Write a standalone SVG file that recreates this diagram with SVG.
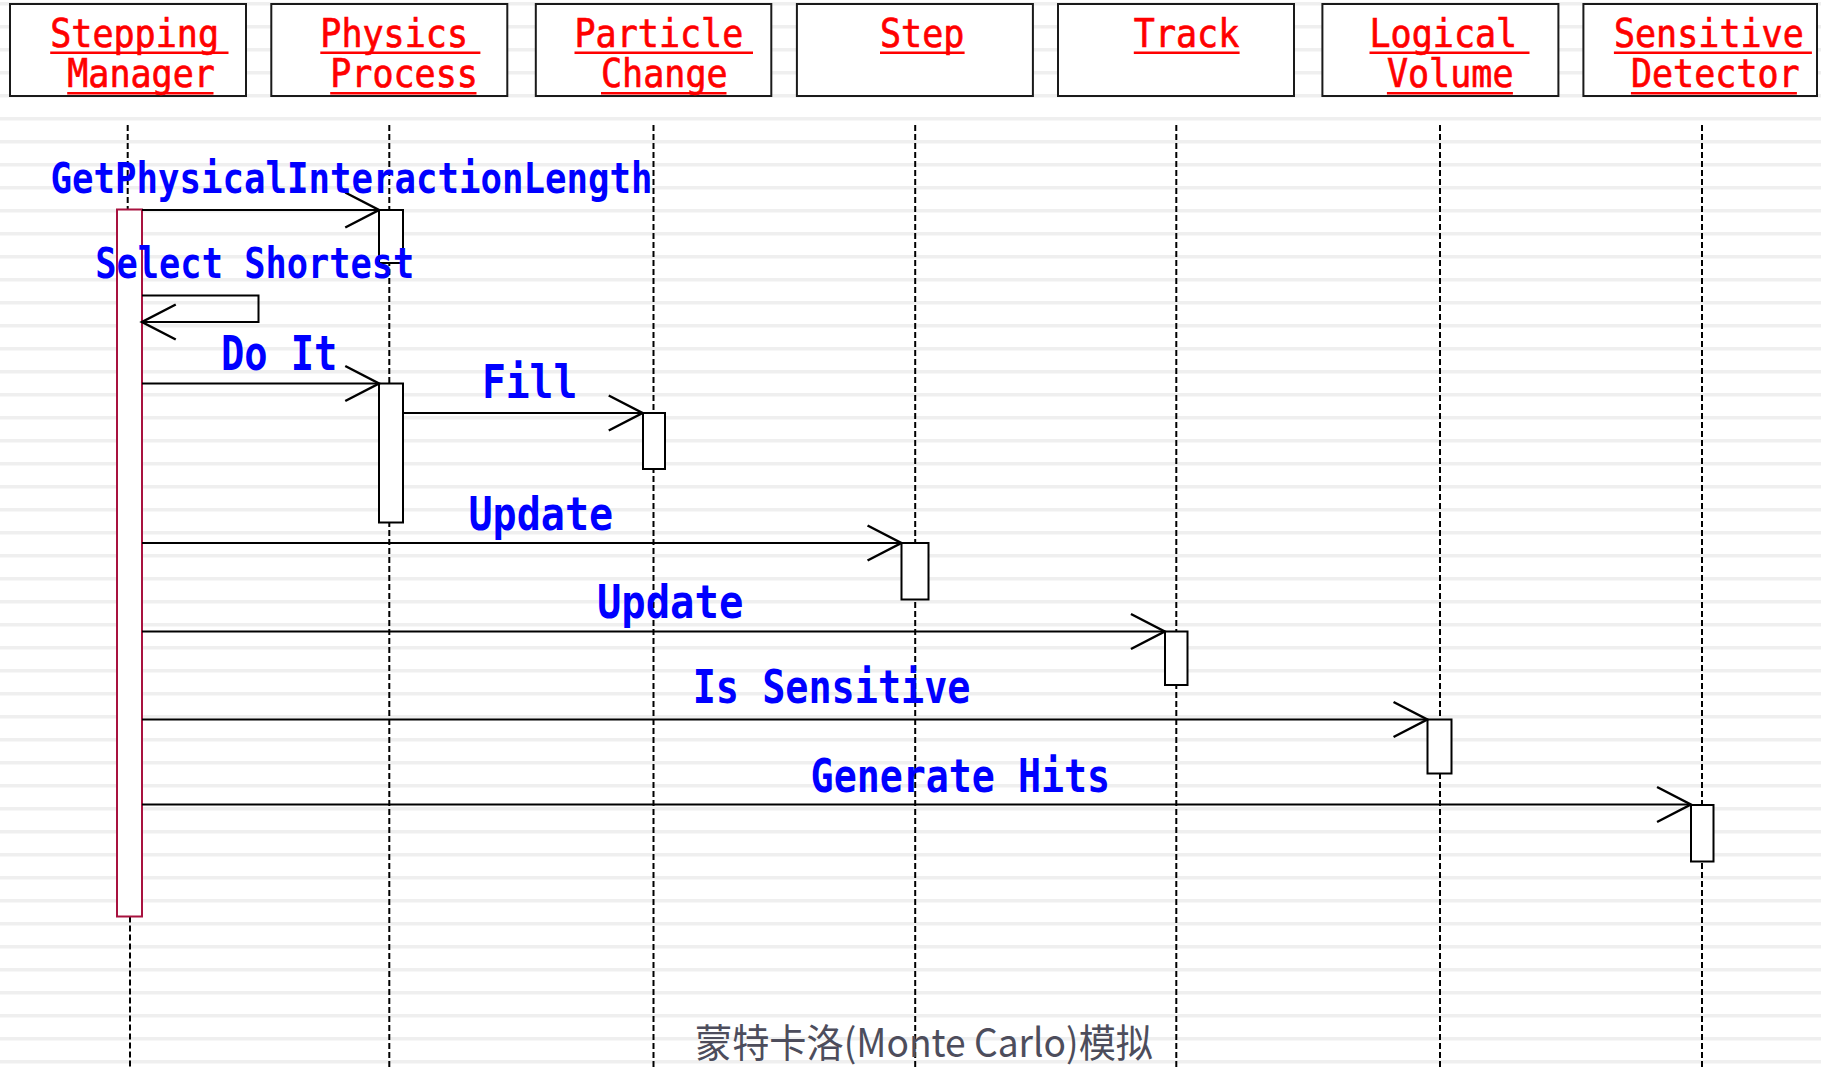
<svg xmlns="http://www.w3.org/2000/svg" width="1821" height="1069" viewBox="0 0 1821 1069">
  <defs>
    <pattern id="stripes" patternUnits="userSpaceOnUse" x="0" y="2" width="1821" height="23">
      <rect x="0" y="0" width="1821" height="3.5" fill="#efefef"/>
    </pattern>
    <marker id="open" markerUnits="userSpaceOnUse" markerWidth="40" markerHeight="40" viewBox="-30 -16 32 32" refX="0" refY="0" orient="auto" overflow="visible">
      <path d="M-27,-14 L0,0 L-27,14" fill="none" stroke="#000" stroke-width="2"/>
    </marker>
    <style>
      .hdr { fill: #fff; stroke: #1a1a1a; stroke-width: 2; }
      .hname { font-family: "DejaVu Sans Mono", "Liberation Mono", monospace; font-size: 39px; fill: #ff0000; stroke: #ff0000; stroke-width: 0.7; }
      .ul { stroke: #ff0000; stroke-width: 2.5; }
      .life { stroke: #000; stroke-width: 2; stroke-dasharray: 6 3; fill: none; }
      .act { fill: #fff; stroke: #000; stroke-width: 2; }
      .actm { fill: #fff; stroke: #a8123f; stroke-width: 2; }
      .msg { stroke: #000; stroke-width: 2; fill: none; marker-end: url(#open); }
      .lbl { font-family: "DejaVu Sans Mono", "Liberation Mono", monospace; font-weight: bold; fill: #0000ff; }
      .foot { font-family: "Noto Sans CJK SC", "Noto Sans", sans-serif; font-size: 39px; fill: #4d4d5c; }
    </style>
  </defs>

  <rect x="0" y="0" width="1821" height="1069" fill="#ffffff"/>
  <rect x="0" y="0" width="1821" height="1069" fill="url(#stripes)"/>

  <g id="stepping-manager">
    <rect class="hdr" x="10" y="4" width="236" height="92"/>
    <text class="hname" x="50.2" y="46.7" textLength="168.8" lengthAdjust="spacingAndGlyphs">Stepping</text>
    <line class="ul" x1="50.2" y1="52.7" x2="228.5" y2="52.7"/>
    <text class="hname" x="67.2" y="87.3" textLength="147.7" lengthAdjust="spacingAndGlyphs">Manager</text>
    <line class="ul" x1="67.2" y1="93.3" x2="213.5" y2="93.3"/>
    <line class="life" x1="127.7" y1="125" x2="127.7" y2="209.5"/>
    <line class="life" x1="130" y1="916.5" x2="130" y2="1069"/>
    <rect class="actm" x="117" y="209.5" width="25" height="707"/>
  </g>

  <g id="physics-process">
    <rect class="hdr" x="271.3" y="4" width="236" height="92"/>
    <text class="hname" x="320.3" y="46.7" textLength="147.7" lengthAdjust="spacingAndGlyphs">Physics</text>
    <line class="ul" x1="320.3" y1="52.7" x2="480.4" y2="52.7"/>
    <text class="hname" x="330.2" y="87.3" textLength="147.7" lengthAdjust="spacingAndGlyphs">Process</text>
    <line class="ul" x1="330.2" y1="93.3" x2="476.5" y2="93.3"/>
    <line class="life" x1="389.3" y1="125" x2="389.3" y2="1069"/>
    <rect class="act" x="379" y="210" width="24" height="53"/>
    <rect class="act" x="379" y="383.5" width="24" height="139"/>
  </g>

  <g id="particle-change">
    <rect class="hdr" x="535.8" y="4" width="235.5" height="92"/>
    <text class="hname" x="574.5" y="46.7" textLength="168.8" lengthAdjust="spacingAndGlyphs">Particle</text>
    <line class="ul" x1="574.5" y1="52.7" x2="753" y2="52.7"/>
    <text class="hname" x="601" y="87.3" textLength="126.6" lengthAdjust="spacingAndGlyphs">Change</text>
    <line class="ul" x1="601" y1="93.3" x2="726.5" y2="93.3"/>
    <line class="life" x1="653.5" y1="125" x2="653.5" y2="1069"/>
    <rect class="act" x="643" y="413" width="22" height="56"/>
  </g>

  <g id="step">
    <rect class="hdr" x="796.9" y="4" width="236" height="92"/>
    <text class="hname" x="880" y="46.7" textLength="84.4" lengthAdjust="spacingAndGlyphs">Step</text>
    <line class="ul" x1="880" y1="52.7" x2="964.6" y2="52.7"/>
    <line class="life" x1="915.2" y1="125" x2="915.2" y2="1069"/>
    <rect class="act" x="901.5" y="543" width="27" height="56.5"/>
  </g>

  <g id="track">
    <rect class="hdr" x="1058" y="4" width="236" height="92"/>
    <text class="hname" x="1133.8" y="46.7" textLength="105.5" lengthAdjust="spacingAndGlyphs">Track</text>
    <line class="ul" x1="1133.8" y1="52.7" x2="1239.6" y2="52.7"/>
    <line class="life" x1="1176.3" y1="125" x2="1176.3" y2="1069"/>
    <rect class="act" x="1165" y="631.5" width="22.5" height="53.5"/>
  </g>

  <g id="logical-volume">
    <rect class="hdr" x="1322.4" y="4" width="236" height="92"/>
    <text class="hname" x="1369.5" y="46.7" textLength="147.7" lengthAdjust="spacingAndGlyphs">Logical</text>
    <line class="ul" x1="1369.5" y1="52.7" x2="1529.5" y2="52.7"/>
    <text class="hname" x="1386.9" y="87.3" textLength="126.6" lengthAdjust="spacingAndGlyphs">Volume</text>
    <line class="ul" x1="1386.9" y1="93.3" x2="1512.9" y2="93.3"/>
    <line class="life" x1="1440" y1="125" x2="1440" y2="1069"/>
    <rect class="act" x="1427.5" y="719.5" width="24" height="54"/>
  </g>

  <g id="sensitive-detector">
    <rect class="hdr" x="1583.4" y="4" width="233.6" height="92"/>
    <text class="hname" x="1613.9" y="46.7" font-size="36" textLength="189.9" lengthAdjust="spacingAndGlyphs">Sensitive</text>
    <line class="ul" x1="1613.9" y1="52.7" x2="1811.9" y2="52.7"/>
    <text class="hname" x="1630.9" y="87.3" textLength="168.8" lengthAdjust="spacingAndGlyphs">Detector</text>
    <line class="ul" x1="1630.9" y1="93.3" x2="1796.9" y2="93.3"/>
    <line class="life" x1="1702" y1="125" x2="1702" y2="1069"/>
    <rect class="act" x="1691" y="805" width="22.5" height="56.5"/>
  </g>

  <g id="connectors">
    <line class="msg" x1="142" y1="210" x2="379" y2="210"/>
    <path class="msg" d="M142,295.5 H258.5 V322 H142"/>
    <line class="msg" x1="142" y1="383.5" x2="379" y2="383.5"/>
    <line class="msg" x1="403" y1="413" x2="642.5" y2="413"/>
    <line class="msg" x1="142" y1="543" x2="901.3" y2="543"/>
    <line class="msg" x1="142" y1="631.5" x2="1164.7" y2="631.5"/>
    <line class="msg" x1="142" y1="719.5" x2="1427.3" y2="719.5"/>
    <line class="msg" x1="142" y1="804.5" x2="1690.8" y2="804.5"/>

    <text class="lbl" x="50.5" y="192.7" font-size="42.5" textLength="602" lengthAdjust="spacingAndGlyphs">GetPhysicalInteractionLength</text>
    <text class="lbl" x="95.3" y="278.3" font-size="43" textLength="319" lengthAdjust="spacingAndGlyphs">Select Shortest</text>
    <text class="lbl" x="220.9" y="370" font-size="48" textLength="116.5" lengthAdjust="spacingAndGlyphs">Do It</text>
    <text class="lbl" x="481.9" y="398.3" font-size="45.3" textLength="95.4" lengthAdjust="spacingAndGlyphs">Fill</text>
    <text class="lbl" x="468.5" y="530" font-size="47" textLength="144.6" lengthAdjust="spacingAndGlyphs">Update</text>
    <text class="lbl" x="596.9" y="618.3" font-size="46" textLength="146.4" lengthAdjust="spacingAndGlyphs">Update</text>
    <text class="lbl" x="692.7" y="703.3" font-size="45.7" textLength="277.8" lengthAdjust="spacingAndGlyphs">Is Sensitive</text>
    <text class="lbl" x="810.6" y="792.3" font-size="46.6" textLength="299.5" lengthAdjust="spacingAndGlyphs">Generate Hits</text>
  </g>

  <text class="foot" x="695" y="1057" textLength="458" lengthAdjust="spacingAndGlyphs">蒙特卡洛(Monte Carlo)模拟</text>
</svg>
